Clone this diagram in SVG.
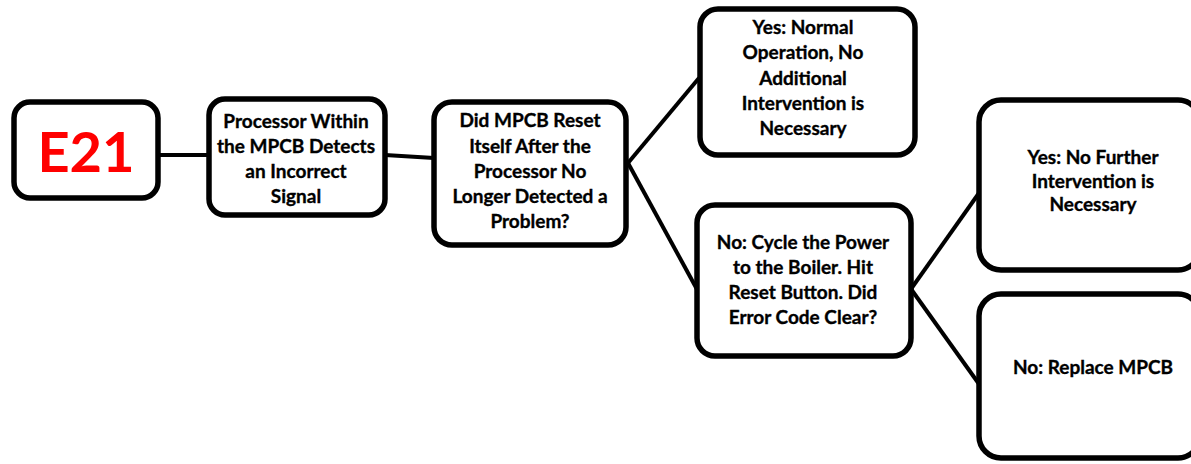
<svg xmlns="http://www.w3.org/2000/svg" width="1191" height="464" viewBox="0 0 1191 464">
<style>
.box{fill:#fff;stroke:#000;stroke-width:5.5}
.t{font-family:Lato,"Open Sans","Liberation Sans",sans-serif;font-weight:bold;font-size:19px;fill:#000;stroke:#000;stroke-width:0.35;text-anchor:middle}
.e{font-family:Lato,"Open Sans","Liberation Sans",sans-serif;font-weight:bold;font-size:56px;fill:#ff0000;text-anchor:middle}
.c{stroke:#000;stroke-width:4;fill:none}
</style>
<rect width="1191" height="464" fill="#fff"/>
<g id="connectors">
<line class="c" x1="158" y1="155" x2="209" y2="155"/>
<line class="c" x1="385" y1="155" x2="434" y2="158"/>
<line class="c" x1="628" y1="163" x2="699" y2="78"/>
<line class="c" x1="628" y1="163" x2="699" y2="293"/>
<line class="c" x1="911" y1="289" x2="979" y2="193"/>
<line class="c" x1="911" y1="289" x2="979" y2="384"/>
</g>
<g id="e21">
<rect class="box" x="14" y="102" width="144" height="96" rx="16"/>
<text class="e" x="86" y="172">E21</text>
</g>
<g id="processor">
<rect class="box" x="209" y="99" width="176" height="116" rx="16"/>
<text class="t" x="296" y="128">Processor Within</text>
<text class="t" x="296" y="153">the MPCB Detects</text>
<text class="t" x="296" y="178">an Incorrect</text>
<text class="t" x="296" y="203">Signal</text>
</g>
<g id="didreset">
<rect class="box" x="434" y="102" width="192" height="143" rx="18"/>
<text class="t" x="530" y="127">Did MPCB Reset</text>
<text class="t" x="530" y="153">Itself After the</text>
<text class="t" x="530" y="178">Processor No</text>
<text class="t" x="530" y="203">Longer Detected a</text>
<text class="t" x="530" y="228">Problem?</text>
</g>
<g id="yes1">
<rect class="box" x="700" y="9" width="215" height="146" rx="18"/>
<text class="t" x="803" y="34">Yes: Normal</text>
<text class="t" x="803" y="59">Operation, No</text>
<text class="t" x="803" y="85">Additional</text>
<text class="t" x="803" y="110">Intervention is</text>
<text class="t" x="803" y="135">Necessary</text>
</g>
<g id="no1">
<rect class="box" x="697" y="205" width="214" height="151" rx="18"/>
<text class="t" x="803" y="249">No: Cycle the Power</text>
<text class="t" x="803" y="274">to the Boiler. Hit</text>
<text class="t" x="803" y="299">Reset Button. Did</text>
<text class="t" x="803" y="324">Error Code Clear?</text>
</g>
<g id="yes2">
<rect class="box" x="979" y="100" width="221" height="170" rx="22"/>
<text class="t" x="1093" y="164">Yes: No Further</text>
<text class="t" x="1093" y="188">Intervention is</text>
<text class="t" x="1093" y="211">Necessary</text>
</g>
<g id="no2">
<rect class="box" x="979" y="294" width="221" height="164" rx="22"/>
<text class="t" x="1093" y="374">No: Replace MPCB</text>
</g>
</svg>
